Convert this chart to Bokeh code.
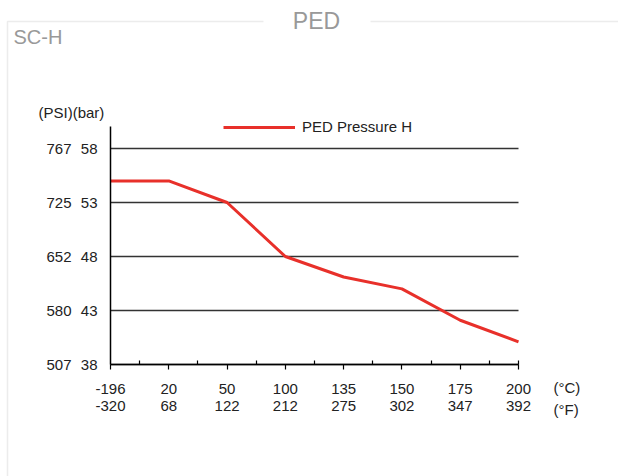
from bokeh.plotting import figure
from bokeh.models import (ColumnDataSource, FixedTicker, LinearAxis, Label,
                          BoxAnnotation, Legend, LegendItem, Range1d)
from bokeh.embed import file_html
from bokeh.resources import INLINE

# ---- data ----
temps_c = ["-196", "20", "50", "100", "135", "150", "175", "200"]
temps_f = ["-320", "68", "122", "212", "275", "302", "347", "392"]
pressure_bar = [55.0, 55.0, 53.0, 48.0, 46.1, 45.0, 42.1, 40.1]
bar_ticks = [38, 43, 48, 53, 58]
psi_labels = ["507", "580", "652", "725", "767"]
bar_axis_top = 60
series_name = "PED Pressure H"
title_text = "PED"
subtitle_text = "SC-H"
y_header = "(PSI)(bar)"
unit_c = "(°C)"
unit_f = "(°F)"

FONT = "Liberation Sans"
TICK_SIZE = "15px"
TEXT = "#222222"

W, H = 618, 476
n = len(temps_c)
xs = list(range(n))

# plot frame = whole canvas; chart region: x 0..n-1 -> px 110..518, y 38..58 -> px 364..148
PX_PER_X = (518 - 110) / (n - 1)
PX_PER_Y = (364 - 148) / (bar_ticks[-1] - bar_ticks[0])
x_range = Range1d(-110 / PX_PER_X, (n - 1) + (W - 518) / PX_PER_X)
y_range = Range1d(bar_ticks[0] - (H - 364) / PX_PER_Y, bar_ticks[0] + 364 / PX_PER_Y)


def sy(y):  # page y -> screen y measured from bottom
    return H - y


src = ColumnDataSource(dict(x=xs, y=pressure_bar))

p = figure(width=W, height=H, x_range=x_range, y_range=y_range,
           output_backend="svg", toolbar_location=None, min_border=0,
           min_border_left=0, min_border_right=0, min_border_top=0,
           min_border_bottom=0, outline_line_color=None,
           background_fill_color="white", border_fill_color="white")

# grid
p.xgrid.visible = False
p.ygrid.ticker = FixedTicker(ticks=bar_ticks)
p.ygrid.bounds = (bar_ticks[0], bar_axis_top)
p.ygrid.cross_bounds = (xs[0], xs[-1])
p.ygrid.grid_line_color = "#333333"
p.ygrid.grid_line_width = 1.3

# main x axis (°C)
xa = p.xaxis[0]
xa.fixed_location = bar_ticks[0]
xa.bounds = (xs[0], xs[-1])
xa.ticker = FixedTicker(ticks=xs, minor_ticks=[i + 0.5 for i in xs[:-1]] + [xs[-1]])
xa.major_label_overrides = {i: t for i, t in zip(xs, temps_c)}
xa.axis_line_color = "black"
xa.axis_line_width = 1.5
xa.major_tick_line_color = "black"
xa.major_tick_line_width = 1.2
xa.major_tick_out = 5
xa.major_tick_in = 0
xa.minor_tick_line_color = "black"
xa.minor_tick_line_width = 1.2
xa.minor_tick_in = 4
xa.minor_tick_out = 0
xa.major_label_standoff = 14
xa.major_label_text_font = FONT
xa.major_label_text_font_size = TICK_SIZE
xa.major_label_text_color = TEXT

# second x axis (°F)
xf = LinearAxis(ticker=FixedTicker(ticks=xs), fixed_location=bar_ticks[0],
                bounds=(xs[0], xs[-1]))
xf.major_label_overrides = {i: t for i, t in zip(xs, temps_f)}
xf.axis_line_color = None
xf.major_tick_line_color = None
xf.major_tick_out = 0
xf.major_tick_in = 0
xf.minor_tick_line_color = None
xf.minor_tick_out = 0
xf.major_label_standoff = 36
xf.major_label_text_font = FONT
xf.major_label_text_font_size = TICK_SIZE
xf.major_label_text_color = TEXT
p.add_layout(xf, "below")

# main y axis (bar)
ya = p.yaxis[0]
ya.fixed_location = xs[0]
ya.bounds = (bar_ticks[0], bar_axis_top)
ya.ticker = FixedTicker(ticks=bar_ticks)
ya.axis_line_color = "black"
ya.axis_line_width = 1.5
ya.major_tick_line_color = None
ya.major_tick_out = 0
ya.major_tick_in = 0
ya.minor_tick_line_color = None
ya.minor_tick_out = 0
ya.major_label_standoff = 13
ya.major_label_text_font = FONT
ya.major_label_text_font_size = TICK_SIZE
ya.major_label_text_color = TEXT

# second y axis (PSI)
yp = LinearAxis(ticker=FixedTicker(ticks=bar_ticks), fixed_location=xs[0],
                bounds=(bar_ticks[0], bar_axis_top))
yp.major_label_overrides = {b: s for b, s in zip(bar_ticks, psi_labels)}
yp.axis_line_color = None
yp.major_tick_line_color = None
yp.major_tick_out = 0
yp.major_tick_in = 0
yp.minor_tick_line_color = None
yp.minor_tick_out = 0
yp.major_label_standoff = 39
yp.major_label_text_font = FONT
yp.major_label_text_font_size = TICK_SIZE
yp.major_label_text_color = TEXT
p.add_layout(yp, "left")

# data line
r = p.line("x", "y", source=src, line_color="#e8302a", line_width=3)

legend = Legend(items=[LegendItem(label=series_name, renderers=[r])],
                location=(223, sy(136.7)), padding=0, margin=0, spacing=0,
                glyph_width=72, glyph_height=20, label_height=20,
                label_standoff=7, border_line_color=None,
                background_fill_alpha=0,
                label_text_font=FONT, label_text_font_size=TICK_SIZE,
                label_text_color=TEXT)
p.add_layout(legend)

# decorative frame (fieldset style)
frame_box = BoxAnnotation(left=7, right=W + 50, top=sy(21), bottom=-50,
                          left_units="screen", right_units="screen",
                          top_units="screen", bottom_units="screen",
                          fill_alpha=0, line_color="#c0c0c0", line_width=1.5)
p.add_layout(frame_box)
gap_box = BoxAnnotation(left=263, right=370, top=sy(12), bottom=sy(30),
                        left_units="screen", right_units="screen",
                        top_units="screen", bottom_units="screen",
                        fill_color="white", fill_alpha=1, line_color=None)
p.add_layout(gap_box)


def add_label(text, x, y, size, color, align="left"):
    p.add_layout(Label(x=x, y=sy(y), x_units="screen", y_units="screen",
                       text=text, text_align=align, text_baseline="middle",
                       text_font=FONT, text_font_size=size, text_color=color))


add_label(title_text, 316, 20, "23px", "#999999", "center")
add_label(subtitle_text, 13, 36, "20px", "#999999")
add_label(y_header, 38, 112, TICK_SIZE, TEXT)
add_label(unit_c, 553, 387, TICK_SIZE, TEXT)
add_label(unit_f, 553, 409, TICK_SIZE, TEXT)

open("out.html", "w").write(file_html(p, INLINE))
